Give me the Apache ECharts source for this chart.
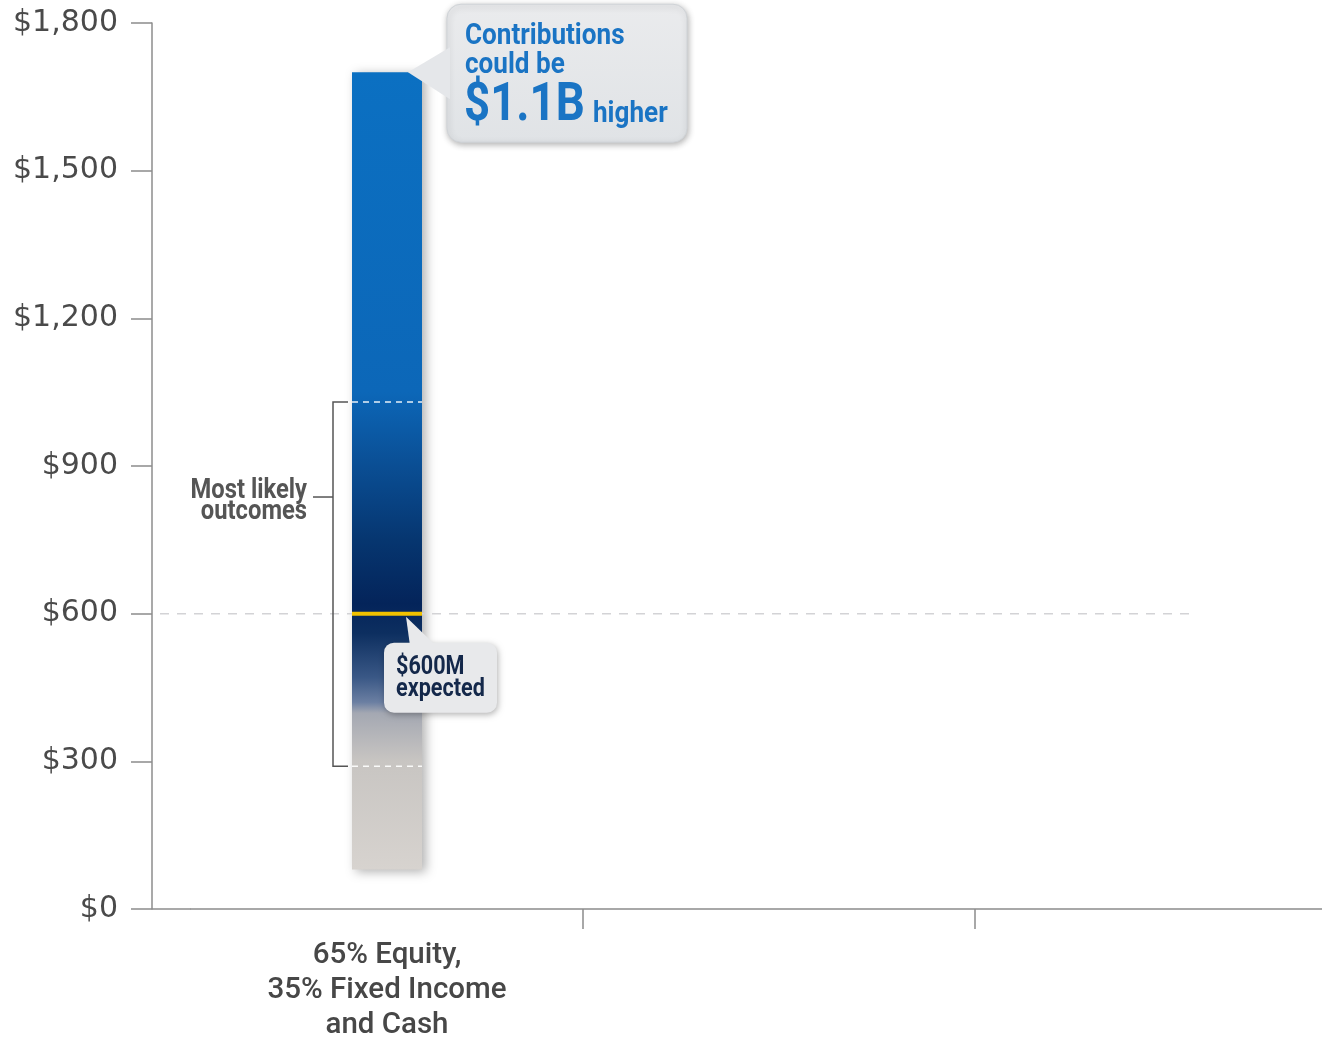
<!DOCTYPE html>
<html><head><meta charset="utf-8">
<script src="https://cdn.jsdelivr.net/npm/echarts@6/dist/echarts.min.js"></script>
<style>html,body{margin:0;padding:0;background:#fff;overflow:hidden}#c{width:1322px;height:1037px}</style>
</head><body><div id="c"></div>
<script>
// ---- data ----
const categories = ['65% Equity,\n35% Fixed Income\nand Cash', '', ''];
const rangeLow = [80];
const rangeHigh = [1700];
const expectedValue = [600];
const likelyLow = [290];
const likelyHigh = [1030];
const yMin = 0, yMax = 1800, yStep = 300;
const calloutHighText = ['Contributions', 'could be', '$1.1B', 'higher'];
const calloutExpectedText = ['$600M', 'expected'];
const likelyText = ['Most likely', 'outcomes'];

// ---- style ----
const COND = "Roboto, 'Liberation Sans', sans-serif";
const BAR_W = 70;
const gradientStops = [
  [1700, '#0b70c2'], [1050, '#0c67b8'], [900, '#0a4e94'], [750, '#063670'],
  [620, '#04245a'], [560, '#0d2f60'], [470, '#3a5886'], [420, '#6b7fa2'],
  [398, '#a4a8b2'], [300, '#c8c5c2'], [80, '#d7d3cf']
];
const span = rangeHigh[0] - rangeLow[0];
const barGradient = new echarts.graphic.LinearGradient(0, 0, 0, 1,
  gradientStops.map(([v, c]) => ({ offset: (rangeHigh[0] - v) / span, color: c })));

const chart = echarts.init(document.getElementById('c'), null, { renderer: 'canvas', width: 1322, height: 1037 });

function condText(str, x, y, size, color, sx, align) {
  return { type: 'text', x: x, y: y, scaleX: sx,
    style: { text: str, x: 0, y: 0, align: align || 'left', verticalAlign: 'middle',
      font: 'bold ' + size + 'px ' + COND, fill: color } };
}

function renderNotes(params, api) {
  const cs = params.coordSys;
  const cx = api.coord([api.value(0), 0])[0];
  const y0 = api.coord([0, 0])[1];
  const L = cx - BAR_W / 2, R = cx + BAR_W / 2;
  const yE = api.coord([0, api.value(1)])[1];
  const yLo = api.coord([0, api.value(2)])[1];
  const yHi = api.coord([0, api.value(3)])[1];
  const yTop = api.coord([0, api.value(4)])[1];
  const yMid = yHi + 95;
  const bx = R + 25, by = yTop - 68, bw = 240, bh = 138;
  const bx2 = L + 32, by2 = yE + 29, bw2 = 113, bh2 = 70;
  const boxFill = new echarts.graphic.LinearGradient(0, 0, 0, 1, [
    { offset: 0, color: '#eaebed' }, { offset: 1, color: '#e0e3e6' }]);
  const blue = '#1a74c4';
  return {
    type: 'group',
    children: [
      { type: 'line', shape: { x1: cs.x - 39, y1: y0, x2: cs.x, y2: y0 },
        style: { stroke: '#8c8c8c', lineWidth: 1.5 } },
      { type: 'line', shape: { x1: cs.x - 31, y1: yE, x2: cs.x + 999, y2: yE },
        style: { stroke: '#d3d3d6', lineWidth: 1.5, lineDash: [9, 8] } },
      { type: 'line', shape: { x1: L, y1: yE, x2: R, y2: yE },
        style: { stroke: '#f2c200', lineWidth: 4 } },
      { type: 'line', shape: { x1: L, y1: yHi, x2: R, y2: yHi },
        style: { stroke: 'rgba(255,255,255,0.9)', lineWidth: 1.5, lineDash: [6, 5] } },
      { type: 'line', shape: { x1: L, y1: yLo, x2: R, y2: yLo },
        style: { stroke: 'rgba(255,255,255,0.9)', lineWidth: 1.5, lineDash: [6, 5] } },
      { type: 'polyline', shape: { points: [[L - 4, yHi], [L - 19, yHi], [L - 19, yLo], [L - 4, yLo]] },
        style: { stroke: '#555', lineWidth: 1.5, fill: null } },
      { type: 'line', shape: { x1: L - 19, y1: yMid, x2: L - 39, y2: yMid },
        style: { stroke: '#555', lineWidth: 1.5 } },
      condText(likelyText[0], L - 45, yMid - 6, 27, '#555', 0.88, 'right'),
      condText(likelyText[1], L - 45, yMid + 15, 27, '#555', 0.88, 'right'),
      // top callout
      { type: 'rect', shape: { x: bx, y: by, width: bw, height: bh, r: 14 },
        style: { fill: boxFill, stroke: '#cfd3d7', lineWidth: 1, shadowBlur: 6, shadowColor: 'rgba(0,0,0,0.3)', shadowOffsetX: 1, shadowOffsetY: 2 } },
      { type: 'polygon', shape: { points: [[R - 14, yTop], [bx + 3, yTop - 25], [bx + 3, yTop + 27]] },
        style: { fill: '#e5e7ea' } },
      condText(calloutHighText[0], bx + 18, by + 32, 30, blue, 0.87),
      condText(calloutHighText[1], bx + 18, by + 61, 30, blue, 0.87),
      condText(calloutHighText[2], bx + 17, by + 103, 53, blue, 0.86),
      condText(calloutHighText[3], bx + 146, by + 110, 30, blue, 0.87),
      // expected callout
      { type: 'rect', shape: { x: bx2, y: by2, width: bw2, height: bh2, r: 10 },
        style: { fill: '#e8e9eb', shadowBlur: 6, shadowColor: 'rgba(0,0,0,0.3)', shadowOffsetX: 1, shadowOffsetY: 2 } },
      { type: 'polygon', shape: { points: [[L + 54, yE + 3], [L + 58, by2 + 3], [L + 84, by2 + 3]] },
        style: { fill: '#e8e9eb' } },
      condText(calloutExpectedText[0], bx2 + 12, yE + 54, 26, '#14284a', 0.83),
      condText(calloutExpectedText[1], bx2 + 12, yE + 76, 26, '#14284a', 0.83)
    ]
  };
}

const option = {
  backgroundColor: '#fff',
  animation: false,
  grid: { left: 191, top: 23, width: 1176, height: 886, containLabel: false, outerBoundsMode: 'none' },
  xAxis: {
    type: 'category', data: categories, boundaryGap: true,
    axisLine: { show: true, lineStyle: { color: '#8c8c8c', width: 1.5 } },
    axisTick: { show: true, length: 20, interval: (i) => i !== 0, lineStyle: { color: '#8c8c8c', width: 1.5 } },
    axisLabel: { margin: 29, lineHeight: 35, fontFamily: 'Roboto', fontWeight: 500, fontSize: 29.5, color: '#474747' },
    splitLine: { show: false }
  },
  yAxis: {
    type: 'value', min: yMin, max: yMax, interval: yStep, offset: 39,
    axisLine: { show: true, lineStyle: { color: '#8c8c8c', width: 1.5 } },
    axisTick: { show: true, length: 21, lineStyle: { color: '#8c8c8c', width: 1.5 } },
    axisLabel: { margin: 34, fontFamily: 'DejaVu Sans', fontSize: 30, color: '#4a4a4a',
      formatter: (v) => '$' + v.toLocaleString('en-US') },
    splitLine: { show: false }
  },
  series: [
    { type: 'bar', stack: 'r', barWidth: BAR_W, data: rangeLow, itemStyle: { color: 'transparent' }, silent: true },
    { type: 'bar', stack: 'r', barWidth: BAR_W, data: rangeHigh.map((h, i) => h - rangeLow[i]),
      itemStyle: { color: barGradient, shadowColor: 'rgba(0,0,0,0.3)', shadowBlur: 10, shadowOffsetX: 4, shadowOffsetY: 2 } },
    { type: 'custom', clip: false, z: 5, renderItem: renderNotes,
      encode: { x: 0, y: 1 },
      data: expectedValue.map((e, i) => [i, e, likelyLow[i], likelyHigh[i], rangeHigh[i]]) }
  ]
};
chart.setOption(option);
</script></body></html>
